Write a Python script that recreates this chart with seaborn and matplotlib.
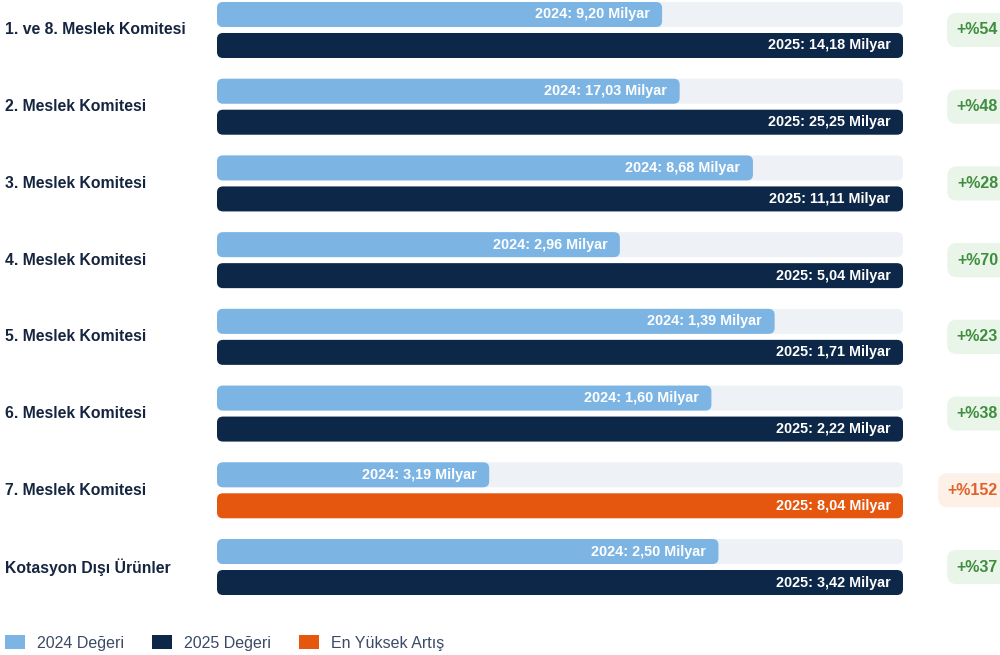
import matplotlib
matplotlib.use("Agg")
import matplotlib.pyplot as plt
import matplotlib.transforms as mtransforms
from matplotlib.patches import FancyBboxPatch, Patch
import pandas as pd
import seaborn as sns

# ---- data ----
categories = ["1. ve 8. Meslek Komitesi", "2. Meslek Komitesi", "3. Meslek Komitesi",
              "4. Meslek Komitesi", "5. Meslek Komitesi", "6. Meslek Komitesi",
              "7. Meslek Komitesi", "Kotasyon Dışı Ürünler"]
v2024 = [9.20, 17.03, 8.68, 2.96, 1.39, 1.60, 3.19, 2.50]
v2025 = [14.18, 25.25, 11.11, 5.04, 1.71, 2.22, 8.04, 3.42]
increase = [54, 48, 28, 70, 23, 38, 152, 37]
highlight = "7. Meslek Komitesi"

C24 = "#7cb5e4"
C25 = "#0c2748"
CHI = "#e5560e"
TRACK = "#eef1f6"
NAVY = "#15243f"

sns.set_theme(style="white")
plt.rcParams["font.family"] = ["Liberation Sans", "DejaVu Sans"]

# each row scaled to its 2025 value
rows = []
for c, a, b in zip(categories, v2024, v2025):
    rows.append({"cat": c, "year": "2024", "share": a / b, "val": a})
    rows.append({"cat": c, "year": "2025", "share": 1.0, "val": b})
df = pd.DataFrame(rows)

fig = plt.figure(figsize=(10, 6.55), dpi=100)
ax = fig.add_axes([0.217, 1 - 600 / 655, 0.686, 600 / 655])

sns.barplot(data=df, y="cat", x="share", hue="year", hue_order=["2024", "2025"],
            order=categories, orient="h", width=0.808, dodge=True,
            palette={"2024": C24, "2025": C25}, legend=False, ax=ax)

ax.set_xlim(0, 1)
ax.set_ylim(7.43, -0.391)
ax.axis("off")

# round the bars, keep their positions from seaborn
bar_h = 0.326
aspect = 686 / 76.7
rsize = 6 / 686
old = list(ax.patches)
n = len(categories)
for k, p in enumerate(old):
    year = "2024" if k < n else "2025"
    i = k % n
    yc = p.get_y() + p.get_height() / 2
    w = p.get_width()
    color = C24 if year == "2024" else (CHI if categories[i] == highlight else C25)
    p.remove()
    if year == "2024":
        track = FancyBboxPatch((0, yc - bar_h / 2), 1, bar_h,
                               boxstyle=f"round,pad=0,rounding_size={rsize}",
                               mutation_aspect=aspect, fc=TRACK, ec="none", zorder=1)
        ax.add_patch(track)
    bar = FancyBboxPatch((0, yc - bar_h / 2), w, bar_h,
                         boxstyle=f"round,pad=0,rounding_size={rsize}",
                         mutation_aspect=aspect, fc=color, ec="none", zorder=2)
    ax.add_patch(bar)
    val = v2024[i] if year == "2024" else v2025[i]
    label = f"{year}: {val:.2f} Milyar".replace(".", ",")
    ax.annotate(label, (w, yc), xytext=(-9, 0), textcoords="offset points",
                ha="right", va="center", color="white", fontsize=10.4,
                fontweight="bold", zorder=3)

# category labels and increase badges
lab_tr = mtransforms.blended_transform_factory(fig.transFigure, ax.transData)
for i, c in enumerate(categories):
    ax.text(5 / 1000, i, c, transform=lab_tr, ha="left", va="center",
            fontsize=11.3, fontweight="bold", color=NAVY)
    hi = c == highlight
    ax.text(998 / 1000, i, f"+%{increase[i]}", transform=lab_tr, ha="right",
            va="center", fontsize=11.5, fontweight="bold",
            color="#e0622a" if hi else "#3f8d3f",
            bbox=dict(boxstyle="round,pad=0.6,rounding_size=0.6",
                      fc="#fdf0e6" if hi else "#e9f5e8", ec="none"),
            clip_on=False)

handles = [Patch(fc=C24, ec="none", label="2024 Değeri"),
           Patch(fc=C25, ec="none", label="2025 Değeri"),
           Patch(fc=CHI, ec="none", label="En Yüksek Artış")]
fig.legend(handles=handles, loc="center left", bbox_to_anchor=(0.005, 12 / 655),
           ncol=3, frameon=False, fontsize=11.5, handlelength=1.25,
           handleheight=0.9, handletextpad=0.75, columnspacing=1.75,
           borderpad=0, borderaxespad=0, labelcolor="#3b4a66")

fig.savefig("out.png", dpi=100)
